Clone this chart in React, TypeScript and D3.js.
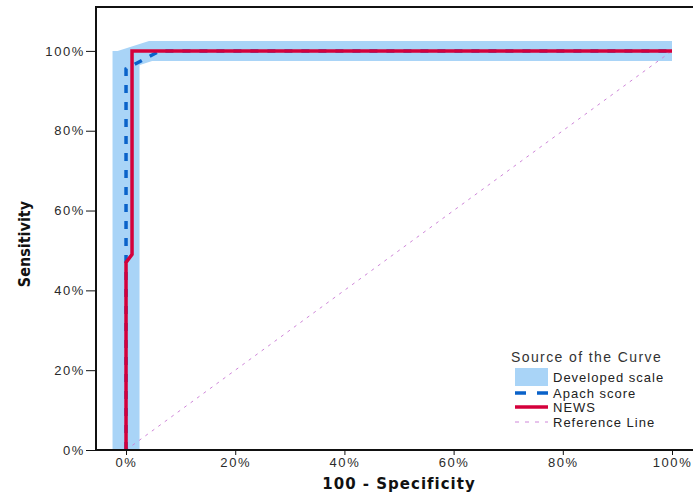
import React, { useEffect, useRef } from "react";
import * as d3 from "d3";

// ROC curves, values (false positive rate, sensitivity)
const developedFpr = [0, 0, 0.045, 1];
const developedSens = [0, 0.98, 1, 1];
const apachFpr = [0, 0, 0.062, 1];
const apachSens = [0, 0.955, 1, 1];
const newsFpr = [0, 0, 0.011, 0.011, 1];
const newsSens = [0, 0.47, 0.49, 1, 1];
const referenceFpr = [0, 1];
const referenceSens = [0, 1];

const xTicks = [0, 0.2, 0.4, 0.6, 0.8, 1];
const yTicks = [0, 0.2, 0.4, 0.6, 0.8, 1];
const legendLabels = ["Developed scale", "Apach score", "NEWS", "Reference Line"];

const BAND = "#a9d4f7";
const BLUE = "#0a62c9";
const RED = "#d4003b";
const PINK = "#cf86d9";

export default function App() {
  const ref = useRef<SVGSVGElement | null>(null);

  useEffect(() => {
    const width = 693;
    const height = 492;
    const left = 96;
    const top = 7;
    const bottom = 450;

    const svg = d3.select(ref.current);
    svg.selectAll("*").remove();
    svg.attr("width", width).attr("height", height);

    const x = d3.scaleLinear().domain([-0.055, 1]).range([left, 672]);
    const y = d3.scaleLinear().domain([0, 1.11]).range([bottom, top]);

    const line = d3
      .line<[number, number]>()
      .x((d) => x(d[0]))
      .y((d) => y(d[1]));

    const pairs = (a: number[], b: number[]) =>
      a.map((v, i) => [v, b[i]] as [number, number]);

    const g = svg.append("g");

    // developed scale, drawn as a wide pale band (the vertical leg is wider)
    g.append("path")
      .attr("d", line(pairs(developedFpr, developedSens)))
      .attr("fill", "none")
      .attr("stroke", BAND)
      .attr("stroke-width", 20)
      .attr("stroke-linejoin", "miter")
      .attr("stroke-linecap", "butt");
    g.append("path")
      .attr(
        "d",
        line([
          [developedFpr[0], developedSens[0]],
          [developedFpr[1], developedSens[2]],
        ])
      )
      .attr("fill", "none")
      .attr("stroke", BAND)
      .attr("stroke-width", 27)
      .attr("stroke-linecap", "butt");

    g.append("path")
      .attr("d", line(pairs(referenceFpr, referenceSens)))
      .attr("fill", "none")
      .attr("stroke", PINK)
      .attr("stroke-width", 1)
      .attr("stroke-dasharray", "3 5");

    g.append("path")
      .attr("d", line(pairs(apachFpr, apachSens)))
      .attr("fill", "none")
      .attr("stroke", BLUE)
      .attr("stroke-width", 3.5)
      .attr("stroke-dasharray", "8 9");

    g.append("path")
      .attr("d", line(pairs(newsFpr, newsSens)))
      .attr("fill", "none")
      .attr("stroke", RED)
      .attr("stroke-width", 3.5)
      .attr("stroke-linejoin", "miter");

    // axes
    const xAxis = svg
      .append("g")
      .attr("transform", `translate(0,${bottom})`)
      .call(
        d3
          .axisBottom(x)
          .tickValues(xTicks)
          .tickFormat(d3.format(".0%"))
          .tickSize(5)
          .tickPadding(3)
      );
    xAxis.select(".domain").remove();

    const yAxis = svg
      .append("g")
      .attr("transform", `translate(${left},0)`)
      .call(
        d3
          .axisLeft(y)
          .tickValues(yTicks)
          .tickFormat(d3.format(".0%"))
          .tickSize(10)
          .tickPadding(1)
      );
    yAxis.select(".domain").remove();

    svg
      .selectAll(".tick line")
      .attr("stroke", "#111");
    svg
      .selectAll(".tick text")
      .attr("fill", "#2a2a2a")
      .style("font-family", "'Liberation Sans', Arial, sans-serif")
      .style("font-size", "13px")
      .style("letter-spacing", "1.6px");

    // frame
    svg.append("line")
      .attr("x1", left).attr("x2", width)
      .attr("y1", bottom).attr("y2", bottom)
      .attr("stroke", "#111").attr("stroke-width", 2);
    svg.append("line")
      .attr("x1", left).attr("x2", width)
      .attr("y1", top).attr("y2", top)
      .attr("stroke", "#111").attr("stroke-width", 2);
    svg.append("line")
      .attr("x1", left).attr("x2", left)
      .attr("y1", top - 1).attr("y2", bottom + 1)
      .attr("stroke", "#111").attr("stroke-width", 2);

    // axis titles
    svg.append("text")
      .attr("x", 399)
      .attr("y", 489)
      .attr("text-anchor", "middle")
      .style("font-family", "'DejaVu Sans', Verdana, sans-serif")
      .style("font-weight", "bold")
      .style("font-size", "15px")
      .style("letter-spacing", "1px")
      .attr("fill", "#111")
      .text("100 - Specificity");

    svg.append("text")
      .attr("transform", "translate(30,244) rotate(-90)")
      .attr("text-anchor", "middle")
      .style("font-family", "'Liberation Sans Narrow', 'DejaVu Sans Condensed', sans-serif")
      .style("font-weight", "bold")
      .style("font-size", "16px")
      .attr("fill", "#111")
      .text("Sensitivity");

    // legend
    const lg = svg.append("g");
    lg.append("text")
      .attr("x", 511)
      .attr("y", 362)
      .style("font-family", "'Liberation Sans', Arial, sans-serif")
      .style("font-size", "14px")
      .style("letter-spacing", "1.4px")
      .attr("fill", "#333")
      .text("Source of the Curve");

    const rowY = [377, 393, 407, 422];
    lg.append("rect")
      .attr("x", 515).attr("y", 368)
      .attr("width", 33).attr("height", 18)
      .attr("fill", BAND);
    lg.append("line")
      .attr("x1", 515).attr("x2", 548)
      .attr("y1", rowY[1]).attr("y2", rowY[1])
      .attr("stroke", BLUE).attr("stroke-width", 3.5)
      .attr("stroke-dasharray", "11 11");
    lg.append("line")
      .attr("x1", 515).attr("x2", 548)
      .attr("y1", rowY[2]).attr("y2", rowY[2])
      .attr("stroke", RED).attr("stroke-width", 3.5);
    lg.append("line")
      .attr("x1", 515).attr("x2", 548)
      .attr("y1", rowY[3]).attr("y2", rowY[3])
      .attr("stroke", PINK).attr("stroke-width", 1)
      .attr("stroke-dasharray", "4 6");

    lg.selectAll("text.item")
      .data(legendLabels)
      .enter()
      .append("text")
      .attr("class", "item")
      .attr("x", 553)
      .attr("y", (d, i) => rowY[i] + 5)
      .style("font-family", "'Liberation Sans', Arial, sans-serif")
      .style("font-size", "13px")
      .style("letter-spacing", "1px")
      .attr("fill", "#222")
      .text((d) => d);
  }, []);

  return (
    <div>
      <svg ref={ref} style={{ position: "absolute", left: 0, top: 0, background: "#fff" }} />
    </div>
  );
}
